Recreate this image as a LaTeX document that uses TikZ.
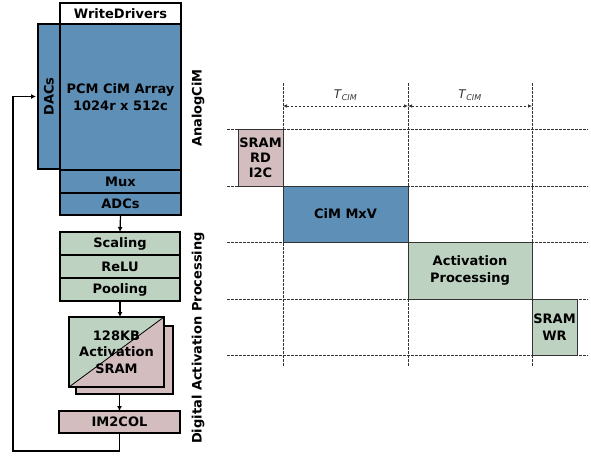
\documentclass[tikz,border=0pt]{standalone}
\usepackage{fontspec}
\setmainfont{DejaVu Sans}
\usetikzlibrary{arrows.meta}
\definecolor{cimblue}{RGB}{94,143,182}
\definecolor{actgreen}{RGB}{189,210,193}
\definecolor{srampink}{RGB}{211,189,191}
\tikzset{
  blk/.style={draw=black, line width=1.6pt, inner sep=0pt, outer sep=0pt, align=center,
    font=\bfseries\fontsize{13}{16.5}\selectfont},
  tbox/.style={draw=black!80, line width=0.8pt, inner sep=0pt, outer sep=0pt, align=center,
    font=\bfseries\fontsize{13}{16.5}\selectfont},
  flow/.style={line width=1.2pt, -{Latex[length=5pt,width=5pt]}},
  grid/.style={line width=0.7pt, black!80, dash pattern=on 2.5pt off 1.5pt},
  dim/.style={grid, {Latex[length=4pt,width=3.5pt]}-{Latex[length=4pt,width=3.5pt]}},
  side/.style={font=\bfseries\fontsize{13}{15}\selectfont, rotate=90, inner sep=0pt}
}
\begin{document}
\begin{tikzpicture}[x=1pt,y=-1pt]
\useasboundingbox (0,0) rectangle (591,455);
% ---------- left: architecture ----------
\node[blk, fill=cimblue, minimum width=22pt, minimum height=145pt] (dac) at (49,96.5)
  {\rotatebox{90}{DACs}};
\node[blk, fill=white, minimum width=121pt, minimum height=21pt] (wd) at (120.5,13.5) {WriteDrivers};
\node[blk, fill=cimblue, minimum width=121pt, minimum height=146pt] (pcm) at (120.5,97)
  {PCM CiM Array\\1024r x 512c};
\node[blk, fill=cimblue, minimum width=121pt, minimum height=23pt] (mux) at (120.5,181.5) {Mux};
\node[blk, fill=cimblue, minimum width=121pt, minimum height=22pt] (adc) at (120.5,204) {ADCs};
\node[blk, fill=actgreen, minimum width=120pt, minimum height=23pt] (scal) at (120,243.5) {Scaling};
\node[blk, fill=actgreen, minimum width=120pt, minimum height=23pt] (relu) at (120,266.5) {ReLU};
\node[blk, fill=actgreen, minimum width=120pt, minimum height=23pt] (pool) at (120,289.5) {Pooling};
\node[blk, fill=srampink, minimum width=97pt, minimum height=68pt] (sramb) at (124.5,360) {};
\node[blk, minimum width=95pt, minimum height=70pt,
  path picture={
    \fill[actgreen] (path picture bounding box.north west) -- (path picture bounding box.north east)
      -- (path picture bounding box.south west) -- cycle;
    \fill[srampink] (path picture bounding box.north east) -- (path picture bounding box.south east)
      -- (path picture bounding box.south west) -- cycle;
    \draw[line width=0.8pt] (path picture bounding box.south west) -- (path picture bounding box.north east);
  }] (sram) at (116.5,352) {128KB\\Activation\\SRAM};
\node[blk, fill=srampink, minimum width=121pt, minimum height=22pt] (im2col) at (119.5,422) {IM2COL};

\draw[flow] (adc.south) -- (scal.north);
\draw[flow] (pool.south) -- (pool.south |- sram.north);
\draw[flow] (im2col.north |- sramb.south) -- (im2col.north);
\coordinate (fb) at (13,451);
\draw[flow] (im2col.south) |- (fb) |- ([xshift=-2pt]dac.west);

\node[side] (lblA) at (198,108) {AnalogCiM};
\node[side] (lblD) at (198,338) {Digital Activation Processing};

% ---------- right: timing ----------
\foreach \x in {283,408,532} \draw[grid] (\x,83) -- (\x,367);
\foreach \y in {129,186,242,299,355} \draw[grid] (227,\y) -- (588,\y);

\node[tbox, fill=srampink, minimum width=45pt, minimum height=57pt,
  font=\bfseries\fontsize{13}{15}\selectfont] (rd) at (260.5,157.5) {SRAM\\RD\\I2C};
\node[tbox, fill=cimblue, minimum width=125pt, minimum height=56pt] (mxv) at (345.5,214) {CiM MxV};
\node[tbox, fill=actgreen, minimum width=124pt, minimum height=57pt] (act) at (470,270.5)
  {Activation\\Processing};
\node[tbox, fill=actgreen, minimum width=45pt, minimum height=56pt] (wr) at (554.5,327) {SRAM\\WR};

\coordinate (t0) at (283,106);
\coordinate (t1) at (408,106);
\coordinate (t2) at (532,106);
\draw[dim] (t0) -- node[above=2pt, font=\fontsize{12}{14}\selectfont] (tc1) {\textit{T}\textsubscript{\textit{CIM}}} (t1);
\draw[dim] (t1) -- node[above=2pt, font=\fontsize{12}{14}\selectfont] (tc2) {\textit{T}\textsubscript{\textit{CIM}}} (t2);
\end{tikzpicture}
\end{document}
